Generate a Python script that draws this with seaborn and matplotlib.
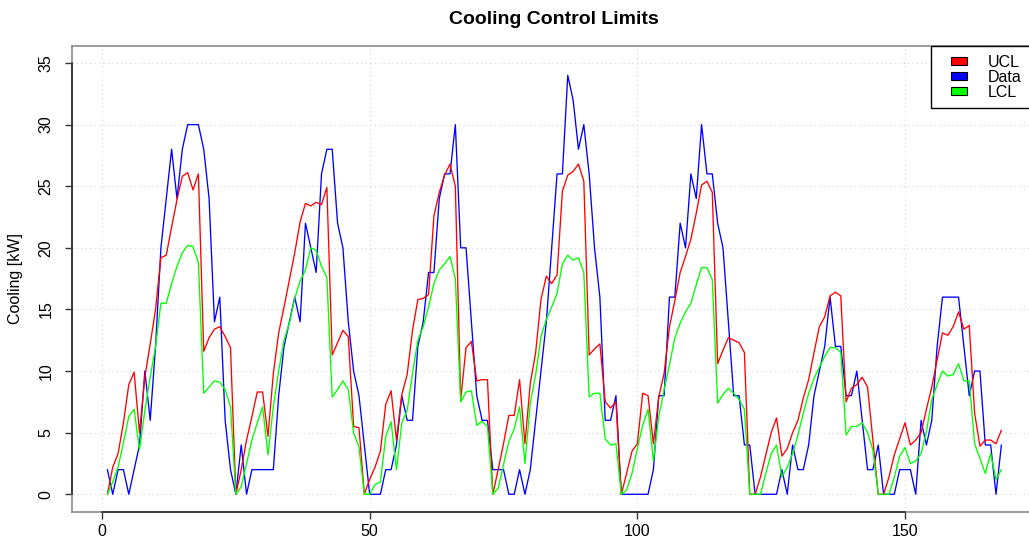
import numpy as np
import pandas as pd
import matplotlib
matplotlib.use("Agg")
import matplotlib.pyplot as plt
import seaborn as sns
from matplotlib.patches import Patch, Rectangle
from matplotlib.legend_handler import HandlerPatch

# Hourly cooling load over one week with its control limits (kW)
hours = np.arange(1, 169)

data_kw = [
    2, 0, 2, 2, 0, 2, 4, 10, 6, 12, 20, 24, 28, 24, 28, 30, 30, 30, 28, 24, 14, 16, 6, 2,
    0, 4, 0, 2, 2, 2, 2, 2, 8, 12, 14, 16, 14, 22, 20, 18, 26, 28, 28, 22, 20, 14, 10, 8,
    4, 0, 0, 0, 2, 2, 4, 8, 6, 6, 12, 14, 18, 18, 24, 26, 26, 30, 20, 20, 14, 8, 6, 6,
    2, 2, 2, 0, 0, 2, 0, 2, 6, 10, 14, 20, 26, 26, 34, 32, 28, 30, 26, 20, 16, 6, 6, 8,
    0, 0, 0, 0, 0, 0, 2, 8, 8, 16, 16, 22, 20, 26, 24, 30, 26, 26, 22, 20, 14, 8, 8, 4,
    4, 0, 0, 0, 0, 0, 2, 0, 4, 2, 2, 4, 8, 10, 12, 16, 12, 12, 8, 8, 10, 6, 2, 2,
    4, 0, 0, 0, 2, 2, 2, 0, 6, 4, 6, 12, 16, 16, 16, 16, 12, 8, 10, 10, 4, 4, 0, 4,
]

ucl_kw = [
    0, 2.2, 3.3, 5.8, 8.9, 9.9, 5.0, 9.5, 12.2, 15.0, 19.2, 19.4, 21.7, 23.9, 25.8, 26.1,
    24.7, 26.0, 11.6, 12.7, 13.4, 13.6, 12.8, 11.9,
    0, 2.0, 4.4, 6.3, 8.3, 8.3, 4.7, 9.8, 13.1, 15.2, 17.4, 19.6, 22.1, 23.6, 23.4, 23.7,
    23.5, 24.9, 11.3, 12.3, 13.3, 12.8, 5.5, 5.4,
    0, 1.2, 2.2, 3.5, 7.3, 8.4, 4.4, 8.1, 9.7, 13.3, 15.8, 15.9, 16.2, 22.6, 24.5, 25.9,
    26.8, 25.0, 7.7, 11.9, 12.4, 9.2, 9.3, 9.3,
    0, 2.0, 4.1, 6.4, 6.4, 9.3, 4.1, 9.0, 11.5, 15.8, 17.7, 17.1, 17.8, 24.6, 25.9, 26.2,
    26.8, 25.4, 11.3, 11.8, 12.2, 7.5, 7.0, 7.5,
    0, 1.7, 3.5, 4.1, 8.2, 8.0, 4.1, 7.9, 9.8, 13.6, 15.7, 18.0, 19.3, 20.7, 22.8, 25.1,
    25.4, 24.5, 10.6, 11.7, 12.7, 12.5, 12.3, 11.5,
    0, 0, 1.4, 3.2, 5.0, 6.2, 3.1, 3.7, 5.0, 6.0, 7.8, 9.3, 11.5, 13.6, 14.4, 16.1,
    16.4, 16.1, 7.5, 8.6, 8.9, 9.5, 8.7, 4.4,
    0, 0, 1.4, 3.2, 4.5, 5.8, 4.0, 4.4, 5.0, 6.9, 8.7, 10.9, 13.1, 12.9, 13.6, 14.8,
    13.4, 13.7, 6.6, 3.9, 4.4, 4.4, 4.1, 5.2,
]

lcl_kw = [
    0, 1.0, 2.2, 4.2, 6.3, 6.9, 3.6, 6.8, 9.5, 12.0, 15.5, 15.5, 17.1, 18.5, 19.6, 20.2,
    20.1, 18.8, 8.2, 8.7, 9.2, 9.1, 8.5, 7.1,
    0, 0.6, 2.5, 4.4, 5.8, 7.1, 3.2, 7.1, 10.0, 12.5, 13.9, 15.9, 17.3, 18.2, 20.0, 19.8,
    18.5, 17.6, 7.9, 8.5, 9.2, 8.5, 5.0, 3.8,
    0, 0, 0.8, 1.0, 4.7, 5.9, 2.0, 5.8, 6.8, 9.8, 12.5, 13.6, 15.2, 17.1, 18.2, 18.7,
    19.3, 17.5, 7.5, 8.3, 8.4, 5.6, 5.9, 5.5,
    0, 0.5, 2.4, 4.3, 5.3, 7.1, 2.5, 7.4, 9.7, 12.8, 14.2, 15.2, 16.3, 18.7, 19.4, 19.0,
    19.2, 18.0, 7.9, 8.2, 8.2, 4.5, 4.0, 4.1,
    0, 0.35, 1.7, 3.7, 5.6, 6.9, 2.7, 6.3, 8.5, 10.5, 12.7, 13.9, 14.8, 15.5, 17.0, 18.4,
    18.4, 17.4, 7.4, 8.1, 8.6, 8.2, 7.7, 6.9,
    0, 0, 0, 1.7, 3.3, 4.0, 1.4, 2.2, 3.3, 4.8, 6.6, 8.2, 9.4, 10.3, 11.2, 11.9,
    11.9, 11.5, 4.8, 5.5, 5.5, 5.8, 5.0, 3.6,
    0, 0, 0, 1.4, 3.1, 3.8, 2.5, 2.7, 3.3, 5.1, 7.7, 8.9, 10.0, 9.6, 9.7, 10.6,
    9.2, 9.2, 4.1, 2.9, 1.7, 3.3, 1.2, 2.0,
]

series_names = ["UCL", "Data", "LCL"]
series_colors = {"UCL": "#FF0000", "Data": "#0000FF", "LCL": "#00FF00"}
x_ticks = [0, 50, 100, 150]
y_ticks = [0, 5, 10, 15, 20, 25, 30, 35]


class RightSwatch(HandlerPatch):
    """Legend key drawn as a small filled box at the right of the handle area."""

    def create_artists(self, legend, orig_handle, xdescent, ydescent, width, height,
                       fontsize, trans):
        w = 0.58 * width
        rect = Rectangle((-xdescent + width - w, -ydescent), w, height,
                         facecolor=orig_handle.get_facecolor(), edgecolor="black",
                         linewidth=0.8, transform=trans)
        return [rect]


sns.set_theme(style="white")
plt.rcParams["font.family"] = ["Liberation Sans", "DejaVu Sans"]
plt.rcParams["text.color"] = "black"
plt.rcParams["axes.labelcolor"] = "black"

fig = plt.figure(figsize=(10.29, 5.44), dpi=100)
ax = fig.add_axes([0.0696, 0.0597, 0.9383, 0.8562])

# Axis ranges padded by 4% like base R
span = hours[-1] - hours[0]
ax.set_xlim(hours[0] - 0.04 * span, hours[-1] + 0.04 * span)
ylo, yhi = y_ticks[0], y_ticks[-1]
ax.set_ylim(ylo - 0.04 * (yhi - ylo), yhi + 0.04 * (yhi - ylo))

lw = 0.95
sns.lineplot(x=hours, y=data_kw, color=series_colors["Data"], linewidth=lw, ax=ax)
sns.lineplot(x=hours, y=ucl_kw, color=series_colors["UCL"], linewidth=lw, ax=ax)
sns.lineplot(x=hours, y=lcl_kw, color=series_colors["LCL"], linewidth=lw, ax=ax)

ax.set_xticks(x_ticks)
ax.set_yticks(y_ticks)
ax.grid(True, color="#d3d3d3", linestyle=(0, (1, 3)), linewidth=0.8)
ax.set_axisbelow(True)

for side in ["top", "right", "left", "bottom"]:
    ax.spines[side].set_color("#8a8a8a")
    ax.spines[side].set_linewidth(1.2)

# Axis lines spanning first to last tick
x0, x1 = ax.get_xlim()
y0, y1 = ax.get_ylim()
ax.plot([x_ticks[0], x_ticks[-1]], [y0, y0], color="#333333", lw=1.3, clip_on=False, zorder=5)
ax.plot([x0, x0], [y_ticks[0], y_ticks[-1]], color="#333333", lw=1.3, clip_on=False, zorder=5)

ax.tick_params(axis="both", direction="out", length=5, width=1.0, color="#333333",
               labelsize=11.5, labelcolor="black", bottom=True, left=True)
ax.tick_params(axis="x", pad=4)
ax.tick_params(axis="y", pad=8)
for lbl in ax.get_yticklabels():
    lbl.set_rotation(90)
    lbl.set_va("center")

ax.set_xlabel("")
ax.set_ylabel("Cooling [kW]", fontsize=11.5, color="black")
ax.yaxis.set_label_coords(-0.05, 0.5)
ax.set_title("Cooling Control Limits", fontsize=14, fontweight="bold", pad=16, color="black")

handles = [Patch(facecolor=series_colors[n], edgecolor="black") for n in series_names]
leg = ax.legend(handles, series_names, loc="upper right", bbox_to_anchor=(0.993, 1.0),
                frameon=True, fancybox=False, framealpha=1, edgecolor="black",
                fontsize=11.5, borderaxespad=0, handlelength=1.7, handleheight=0.45,
                handletextpad=1.3, labelspacing=0.0, borderpad=0.55,
                handler_map={Patch: RightSwatch()})
leg.get_frame().set_linewidth(1.0)
for txt in leg.get_texts():
    txt.set_color("black")

fig.savefig("out.png", dpi=100)
